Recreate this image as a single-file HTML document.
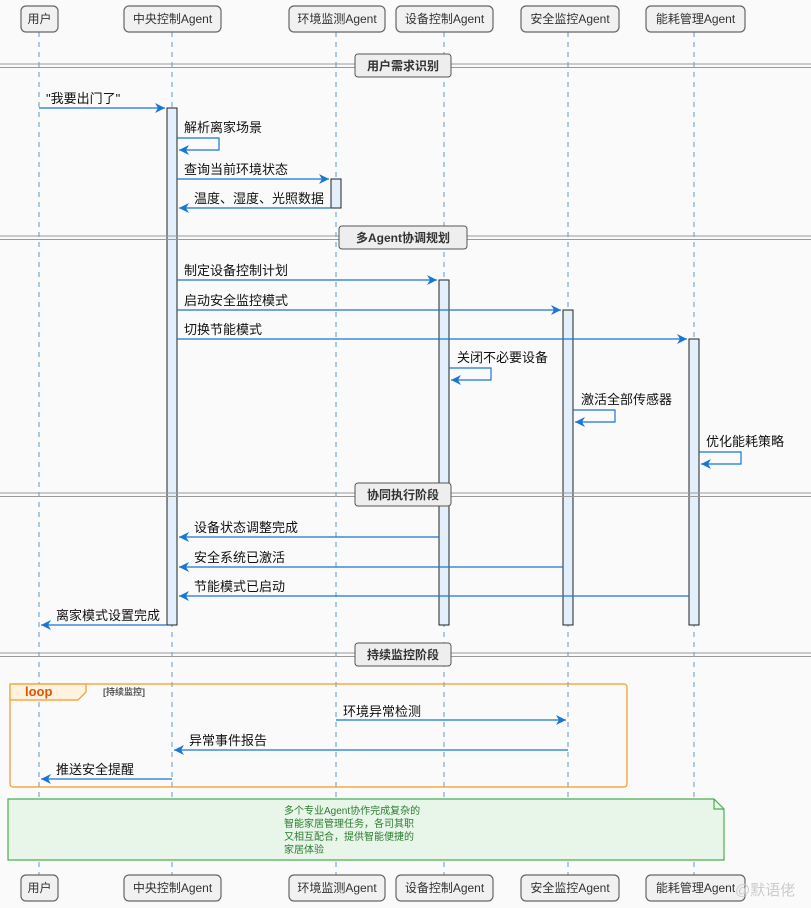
<!DOCTYPE html>
<html><head><meta charset="utf-8"><style>
html,body{margin:0;padding:0;background:#fafafa}
svg{display:block}
text{font-family:"Liberation Sans","Noto Sans CJK SC",sans-serif;font-size:13px;fill:#111}
.h{font-size:12px;fill:#333}
.d{font-weight:bold;fill:#333;font-size:12px}
</style></head><body>
<svg width="811" height="908" viewBox="0 0 811 908" xmlns="http://www.w3.org/2000/svg">
<defs>
<marker id="a" markerWidth="12" markerHeight="12" refX="10" refY="5" orient="auto" markerUnits="userSpaceOnUse">
<path d="M0,0 L10,5 L0,10 L3,5 Z" fill="#1976d2"/>
</marker>
</defs>
<rect width="811" height="908" fill="#fafafa"/>
<g stroke="#5b9bd5" stroke-dasharray="5,5" stroke-width="1">
<line x1="39" y1="32" x2="39" y2="876"/>
<line x1="172" y1="32" x2="172" y2="876"/>
<line x1="336" y1="32" x2="336" y2="876"/>
<line x1="444" y1="32" x2="444" y2="876"/>
<line x1="568" y1="32" x2="568" y2="876"/>
<line x1="694" y1="32" x2="694" y2="876"/>
</g>
<g fill="#f1f1f1" stroke="#666" stroke-width="1.2">
<rect x="21" y="6" width="37" height="26" rx="5"/>
<rect x="124" y="6" width="97" height="26" rx="5"/>
<rect x="289" y="6" width="96" height="26" rx="5"/>
<rect x="396" y="6" width="97" height="26" rx="5"/>
<rect x="521" y="6" width="98" height="26" rx="5"/>
<rect x="646" y="6" width="99" height="26" rx="5"/>
<rect x="21" y="875" width="37" height="26" rx="5"/>
<rect x="124" y="875" width="97" height="26" rx="5"/>
<rect x="289" y="875" width="96" height="26" rx="5"/>
<rect x="396" y="875" width="97" height="26" rx="5"/>
<rect x="521" y="875" width="98" height="26" rx="5"/>
<rect x="646" y="875" width="99" height="26" rx="5"/>
</g>
<g text-anchor="middle">
<text class="h" x="39.5" y="23">用户</text><text class="h" x="172.5" y="23">中央控制Agent</text><text class="h" x="337" y="23">环境监测Agent</text><text class="h" x="444.5" y="23">设备控制Agent</text><text class="h" x="570" y="23">安全监控Agent</text><text class="h" x="695.5" y="23">能耗管理Agent</text>
<text class="h" x="39.5" y="892">用户</text><text class="h" x="172.5" y="892">中央控制Agent</text><text class="h" x="337" y="892">环境监测Agent</text><text class="h" x="444.5" y="892">设备控制Agent</text><text class="h" x="570" y="892">安全监控Agent</text><text class="h" x="695.5" y="892">能耗管理Agent</text>
</g>
<g fill="#e3f0fb" stroke="#222" stroke-width="1">
<rect x="167" y="108" width="10" height="517"/>
<rect x="331" y="179" width="10" height="29"/>
<rect x="439" y="280" width="10" height="345"/>
<rect x="563" y="310" width="10" height="315"/>
<rect x="689" y="339" width="10" height="286"/>
</g>
<g stroke="#999" stroke-width="1">
<line x1="0" y1="64" x2="811" y2="64"/><line x1="0" y1="67.5" x2="811" y2="67.5"/>
<line x1="0" y1="236" x2="811" y2="236"/><line x1="0" y1="239.5" x2="811" y2="239.5"/>
<line x1="0" y1="493" x2="811" y2="493"/><line x1="0" y1="496.5" x2="811" y2="496.5"/>
<line x1="0" y1="653" x2="811" y2="653"/><line x1="0" y1="656.5" x2="811" y2="656.5"/>
</g>
<g fill="#eee" stroke="#555" stroke-width="1">
<rect x="355" y="54" width="96" height="23" rx="3"/>
<rect x="339" y="226" width="128" height="23" rx="3"/>
<rect x="355" y="483" width="96" height="23" rx="3"/>
<rect x="355" y="643" width="96" height="23" rx="3"/>
</g>
<text class="d" x="403" y="70" text-anchor="middle">用户需求识别</text>
<text class="d" x="403" y="242" text-anchor="middle">多Agent协调规划</text>
<text class="d" x="403" y="499" text-anchor="middle">协同执行阶段</text>
<text class="d" x="403" y="659" text-anchor="middle">持续监控阶段</text>
<g stroke="#1976d2" stroke-width="1.2" fill="none" marker-end="url(#a)">
<line x1="39" y1="108" x2="165" y2="108"/>
<polyline points="177,138 219,138 219,150 179,150"/>
<line x1="177" y1="179" x2="329" y2="179"/>
<line x1="331" y1="208" x2="179" y2="208"/>
<line x1="177" y1="280" x2="437" y2="280"/>
<line x1="177" y1="310" x2="561" y2="310"/>
<line x1="177" y1="339" x2="687" y2="339"/>
<polyline points="449,368 491,368 491,380 451,380"/>
<polyline points="573,410 615,410 615,422 575,422"/>
<polyline points="699,452 741,452 741,464 701,464"/>
<line x1="439" y1="537" x2="179" y2="537"/>
<line x1="563" y1="567" x2="179" y2="567"/>
<line x1="689" y1="596" x2="179" y2="596"/>
<line x1="167" y1="625" x2="41" y2="625"/>
<line x1="336" y1="720" x2="566" y2="720"/>
<line x1="568" y1="750" x2="174" y2="750"/>
<line x1="172" y1="779" x2="41" y2="779"/>
</g>
<text x="46" y="103">"我要出门了"</text>
<text x="184" y="132">解析离家场景</text>
<text x="184" y="174">查询当前环境状态</text>
<text x="194" y="203">温度、湿度、光照数据</text>
<text x="184" y="275">制定设备控制计划</text>
<text x="184" y="305">启动安全监控模式</text>
<text x="184" y="334">切换节能模式</text>
<text x="457" y="362">关闭不必要设备</text>
<text x="581" y="404">激活全部传感器</text>
<text x="706" y="446">优化能耗策略</text>
<text x="194" y="532">设备状态调整完成</text>
<text x="194" y="562">安全系统已激活</text>
<text x="194" y="591">节能模式已启动</text>
<text x="56" y="620">离家模式设置完成</text>
<rect x="10" y="684" width="617" height="103" rx="3" fill="none" stroke="#f59a23" stroke-width="1.2"/>
<path d="M10,684 H86 V692 L78,700 H10 Z" fill="#fff3e0" stroke="#f59a23" stroke-width="1.2"/>
<text x="25" y="696" style="font-weight:bold;font-size:13px;fill:#e65100">loop</text>
<text x="103" y="695" style="font-size:9px;fill:#555;font-weight:bold">[持续监控]</text>
<text x="343" y="716">环境异常检测</text>
<text x="189" y="745">异常事件报告</text>
<text x="56" y="774">推送安全提醒</text>
<path d="M8,799 H714 L724,809 V860 H8 Z" fill="#e8f5e9" stroke="#4caf50" stroke-width="1.2"/>
<path d="M714,799 V809 H724" fill="none" stroke="#4caf50" stroke-width="1.2"/>
<text x="284" y="814" style="font-size:10px;fill:#2e7d32">多个专业Agent协作完成复杂的</text>
<text x="284" y="827" style="font-size:10px;fill:#2e7d32">智能家居管理任务，各司其职</text>
<text x="284" y="840" style="font-size:10px;fill:#2e7d32">又相互配合，提供智能便捷的</text>
<text x="284" y="853" style="font-size:10px;fill:#2e7d32">家居体验</text>
<text x="735" y="895" style="font-size:15px;fill:#ccc">@默语佬</text>
</svg>
</body></html>
